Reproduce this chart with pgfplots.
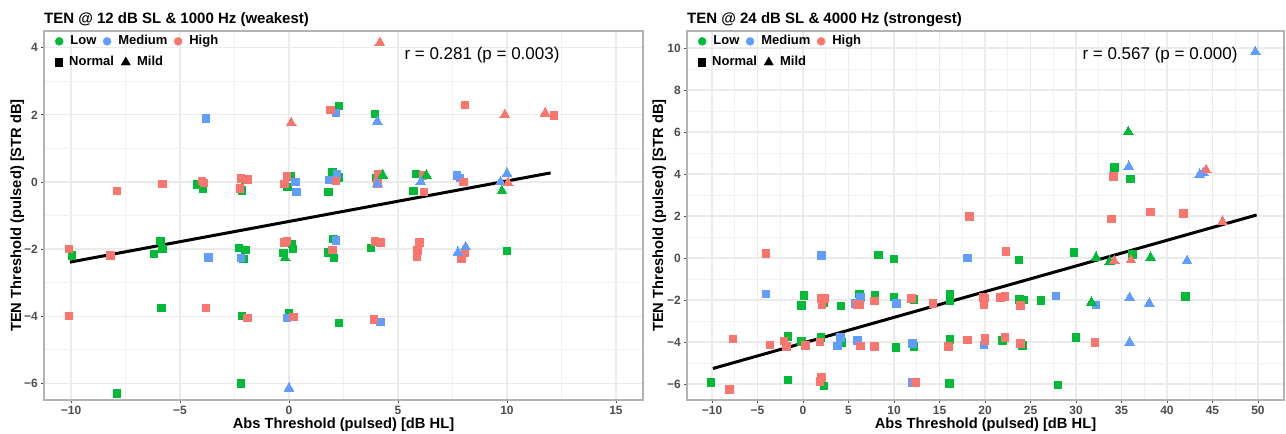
\documentclass[border=0pt]{standalone}
\usepackage{fontspec}
\setmainfont{Liberation Sans}
\usepackage{pgfplots}
\pgfplotsset{compat=1.18}

\definecolor{cLow}{HTML}{00BA38}
\definecolor{cMed}{HTML}{619CFF}
\definecolor{cHigh}{HTML}{F8766D}
\definecolor{gridmaj}{HTML}{EBEBEB}
\definecolor{gridmin}{HTML}{F2F2F2}
\definecolor{bordercol}{HTML}{B3B3B3}
\definecolor{tickcol}{HTML}{4D4D4D}

\pgfplotsset{
  panel/.style={
      scale only axis,
      height=369pt,
      axis line style={draw=bordercol, line width=1.1pt},
      grid=both,
      major grid style={draw=gridmaj, line width=1.1pt},
      minor grid style={draw=gridmin, line width=0.6pt},
      minor tick num=1,
      tick align=outside,
      major tick length=3pt,
      minor tick length=0pt,
      xtick pos=bottom,
      ytick pos=left,
      tick style={draw=tickcol, line width=0.8pt},
      ticklabel style={font=\bfseries\fontsize{12}{14}\selectfont, text=tickcol, inner sep=0pt},
      xticklabel style={yshift=-3pt},
      yticklabel style={xshift=-3pt},
      legend cell align=left,
      legend style={
          draw=none, fill=none, inner sep=0pt, outer sep=0pt,
          font=\bfseries\fontsize{13}{15}\selectfont,
          nodes={inner sep=0pt, anchor=base},
          /tikz/every odd column/.append style={column sep=7pt},
          /tikz/every even column/.append style={column sep=6.5pt},
        },
    },
  legrow/.style={
      hide axis, scale only axis,
      height=369pt,
      xmin=0, xmax=1, ymin=0, ymax=1,
      legend columns=2,
      legend cell align=left,
      legend style={
          at={(0.0184,0.916)}, anchor=west,
          draw=none, fill=none, inner sep=0pt, outer sep=0pt,
          font=\bfseries\fontsize{13}{15}\selectfont,
          nodes={inner sep=0pt, anchor=base},
          /tikz/every odd column/.append style={column sep=6.5pt},
          /tikz/every even column/.append style={column sep=7pt},
        },
    },
  sqN/.style={only marks, color=#1, mark=square*, mark size=3.8pt, mark options={fill=#1, draw=#1, line width=0pt}, forget plot},
  triM/.style={only marks, color=#1, mark=triangle*, mark size=5.7pt, mark options={fill=#1, draw=#1, line width=0pt}, forget plot},
  fitline/.style={black, line width=3pt, forget plot},
  legdot/.style={legend image code/.code={\fill[#1] (4pt,0.36em) circle (4pt);}},
  legsq/.style={legend image code/.code={\fill[black] (0pt,0.36em-3.65pt) rectangle (7.3pt,0.36em+3.65pt);}},
  legtri/.style={legend image code/.code={\fill[black] (0pt,0.36em-2.7pt) -- (9.2pt,0.36em-2.7pt) -- (4.6pt,0.36em+5.3pt) -- cycle;}},
}

\begin{document}
\begin{tikzpicture}
  \useasboundingbox (0,0) rectangle (1286pt,434pt);

  % ---------------- left panel ----------------
  \begin{axis}[
      panel,
      at={(44pt,34pt)}, anchor=south west,
      width=599pt,
      xmin=-11.24, xmax=16.24,
      ymin=-6.5, ymax=4.5,
      xtick={-10,-5,0,5,10,15},
      xticklabels={−10,−5,0,5,10,15},
      ytick={-6,-4,-2,0,2,4},
      yticklabels={−6,−4,−2,0,2,4},
      legend columns=3,
      legend style={at={(0.0184,0.9729)}, anchor=west},
    ]
    \addlegendimage{legdot=cLow}\addlegendentry{Low}
    \addlegendimage{legdot=cMed}\addlegendentry{Medium}
    \addlegendimage{legdot=cHigh}\addlegendentry{High}

    \addplot[fitline] coordinates {(-10.05,-2.39) (12.0,0.27)};

    % Low / Normal
    \addplot[sqN=cLow] coordinates {
        (-9.95,-2.2) (-7.9,-6.3) (-6.2,-2.15) (-5.9,-1.76) (-5.8,-2.0) (-5.85,-3.76)
        (-4.2,-0.08) (-3.95,-0.2) (-2.3,-1.97) (-2.1,-2.3) (-2.0,-2.03) (-2.15,-4.0)
        (-2.2,-6.0) (-2.0,0.06) (-2.15,-0.25) (0.1,0.17) (-0.08,-0.15) (-0.26,-2.12)
        (0.13,-1.85) (0.18,-2.0) (0.0,-3.92) (1.8,-0.3) (2.0,0.28) (2.3,0.13)
        (2.3,2.27) (2.05,-1.7) (1.8,-2.1) (2.06,-2.27) (2.3,-4.2) (3.95,2.03)
        (4.0,0.12) (3.76,-1.97) (5.83,0.24) (5.7,-0.27) (10.0,-2.06)
      };
    % Medium / Normal
    \addplot[sqN=cMed] coordinates {
        (-3.8,1.9) (-3.7,-2.25) (-2.2,-2.27) (0.3,0.0) (0.33,-0.3) (-0.1,-4.05)
        (2.15,2.05) (1.85,0.06) (2.2,0.22) (2.15,-1.74) (4.2,-4.18) (7.7,0.2) (7.85,0.12)
      };
    % High / Normal
    \addplot[sqN=cHigh] coordinates {
        (-10.1,-2.0) (-10.1,-4.0) (-8.2,-2.2) (-7.9,-0.27) (-5.8,-0.06) (-4.0,0.03)
        (-3.9,-0.03) (-3.8,-3.76) (-2.2,0.11) (-2.25,-0.2) (-1.9,0.07) (-1.9,-4.05)
        (-0.2,-0.06) (-0.1,0.18) (-0.2,-1.8) (-0.1,-1.76) (0.2,-4.02) (1.9,2.15)
        (2.15,0.03) (2.0,-2.03) (3.9,-4.1) (3.95,-1.78) (4.2,-1.8) (4.1,0.22)
        (4.05,-0.04) (6.15,0.2) (6.2,-0.3) (6.0,-1.8) (5.9,-2.04) (5.87,-2.22)
        (8.0,0.0) (8.07,2.3) (8.07,-2.1) (7.9,-2.28) (12.15,1.98)
      };
    % Low / Mild
    \addplot[triM=cLow] coordinates {(-0.18,-2.27) (4.3,0.2) (6.3,0.2) (9.77,-0.27)};
    % Medium / Mild
    \addplot[triM=cMed] coordinates {
        (0.0,-6.15) (4.05,1.8) (4.05,-0.06) (6.05,0.0) (7.75,-2.1) (8.1,-1.94)
        (10.0,0.25) (9.7,0.0)
      };
    % High / Mild
    \addplot[triM=cHigh] coordinates {(4.17,4.15) (0.1,1.76) (9.9,2.0) (11.75,2.05) (10.05,-0.03)};
  \end{axis}

  \begin{axis}[legrow, at={(44pt,34pt)}, anchor=south west, width=599pt]
    \addlegendimage{legsq}\addlegendentry{Normal}
    \addlegendimage{legtri}\addlegendentry{Mild}
  \end{axis}

  % ---------------- right panel ----------------
  \begin{axis}[
      panel,
      at={(687pt,34pt)}, anchor=south west,
      width=597pt,
      xmin=-12.75, xmax=52.86,
      ymin=-6.76, ymax=10.81,
      xtick={-10,-5,0,5,10,15,20,25,30,35,40,45,50},
      xticklabels={−10,−5,0,5,10,15,20,25,30,35,40,45,50},
      ytick={-6,-4,-2,0,2,4,6,8,10},
      yticklabels={−6,−4,−2,0,2,4,6,8,10},
      legend columns=3,
      legend style={at={(0.0184,0.9729)}, anchor=west},
    ]
    \addlegendimage{legdot=cLow}\addlegendentry{Low}
    \addlegendimage{legdot=cMed}\addlegendentry{Medium}
    \addlegendimage{legdot=cHigh}\addlegendentry{High}

    \addplot[fitline] coordinates {(-9.9,-5.26) (49.85,2.05)};

    % Low / Normal
    \addplot[sqN=cLow] coordinates {
        (8.3,0.14) (10.0,-0.05) (0.1,-1.78) (-0.2,-2.27) (2.25,-2.15) (4.17,-2.29)
        (6.2,-1.72) (7.9,-1.76) (10.0,-1.86) (12.2,-1.97) (16.15,-1.74) (16.15,-2.05)
        (-1.65,-3.73) (-0.15,-3.98) (1.98,-3.77) (4.28,-4.03) (10.2,-4.25) (12.2,-4.22)
        (16.15,-3.88) (-10.1,-5.92) (-1.65,-5.81) (2.3,-6.09) (16.1,-5.98) (23.75,-0.1)
        (23.8,-1.97) (24.3,-2.0) (26.15,-2.03) (29.8,0.27) (36.2,0.17) (42.05,-1.84)
        (21.9,-3.94) (24.1,-4.17) (30.0,-3.78) (28.0,-6.05) (34.2,4.3) (36.0,3.76)
      };
    % Medium / Normal
    \addplot[sqN=cMed] coordinates {
        (-4.07,-1.71) (2.02,0.11) (5.8,-2.16) (6.3,-1.87) (10.3,-2.16) (4.1,-3.77)
        (3.8,-4.19) (5.97,-3.94) (12.05,-4.08) (12.05,-5.92) (18.05,0.01) (19.9,-4.14)
        (27.8,-1.81) (32.2,-2.24)
      };
    % High / Normal
    \addplot[sqN=cHigh] coordinates {
        (-4.07,0.22) (2.05,-1.93) (2.35,-1.93) (2.1,-2.24) (6.0,-2.2) (6.26,-2.24)
        (7.85,-2.04) (11.9,-1.92) (14.3,-2.16) (-7.7,-3.86) (-3.65,-4.14) (-2.1,-3.95)
        (-1.8,-4.22) (0.3,-4.17) (1.87,-4.0) (6.34,-4.18) (7.87,-4.22) (16.0,-4.22)
        (-8.1,-6.25) (1.87,-5.89) (2.05,-5.7) (12.35,-5.92) (18.3,1.97) (22.3,0.3)
        (19.8,-1.89) (20.0,-1.9) (19.9,-2.24) (21.7,-1.89) (22.2,-1.84) (23.9,-2.26)
        (18.05,-3.9) (20.0,-3.81) (20.0,-3.95) (22.2,-3.77) (23.9,-4.08) (32.1,-4.03)
        (33.9,1.86) (38.2,2.19) (41.8,2.12) (34.1,3.87)
      };
    % Low / Mild
    \addplot[triM=cLow] coordinates {(32.2,0.02) (33.7,-0.17) (38.2,0.02) (31.7,-2.11) (35.75,6.01)};
    % Medium / Mild
    \addplot[triM=cMed] coordinates {
        (49.7,9.82) (35.8,4.35) (43.6,3.98) (44.0,4.05) (42.2,-0.14) (35.9,-1.89)
        (38.05,-2.16) (35.9,-4.02)
      };
    % High / Mild
    \addplot[triM=cHigh] coordinates {(46.1,1.73) (44.3,4.19) (34.2,-0.14) (36.05,-0.1)};
  \end{axis}

  \begin{axis}[legrow, at={(687pt,34pt)}, anchor=south west, width=597pt]
    \addlegendimage{legsq}\addlegendentry{Normal}
    \addlegendimage{legtri}\addlegendentry{Mild}
  \end{axis}

  % titles, axis labels, annotations
  \node[anchor=base west, inner sep=0pt, font=\bfseries\fontsize{15}{18}\selectfont] at (44pt,410pt) {TEN @ 12 dB SL \& 1000 Hz (weakest)};
  \node[anchor=base west, inner sep=0pt, font=\bfseries\fontsize{15}{18}\selectfont] at (687pt,410pt) {TEN @ 24 dB SL \& 4000 Hz (strongest)};
  \node[anchor=base, inner sep=0pt, font=\bfseries\fontsize{14.7}{17}\selectfont] at (343.5pt,5.5pt) {Abs Threshold (pulsed) [dB HL]};
  \node[anchor=base, inner sep=0pt, font=\bfseries\fontsize{14.7}{17}\selectfont] at (985.5pt,5.5pt) {Abs Threshold (pulsed) [dB HL]};
  \node[anchor=base, rotate=90, inner sep=0pt, font=\bfseries\fontsize{14.7}{17}\selectfont] at (21pt,218.5pt) {TEN Threshold (pulsed) [STR dB]};
  \node[anchor=base, rotate=90, inner sep=0pt, font=\bfseries\fontsize{14.7}{17}\selectfont] at (663pt,218.5pt) {TEN Threshold (pulsed) [STR dB]};
  \node[inner sep=0pt, font=\fontsize{17}{20}\selectfont] at (482pt,379pt) {r = 0.281 (p = 0.003)};
  \node[inner sep=0pt, font=\fontsize{17}{20}\selectfont] at (1160pt,379pt) {r = 0.567 (p = 0.000)};
\end{tikzpicture}
\end{document}
